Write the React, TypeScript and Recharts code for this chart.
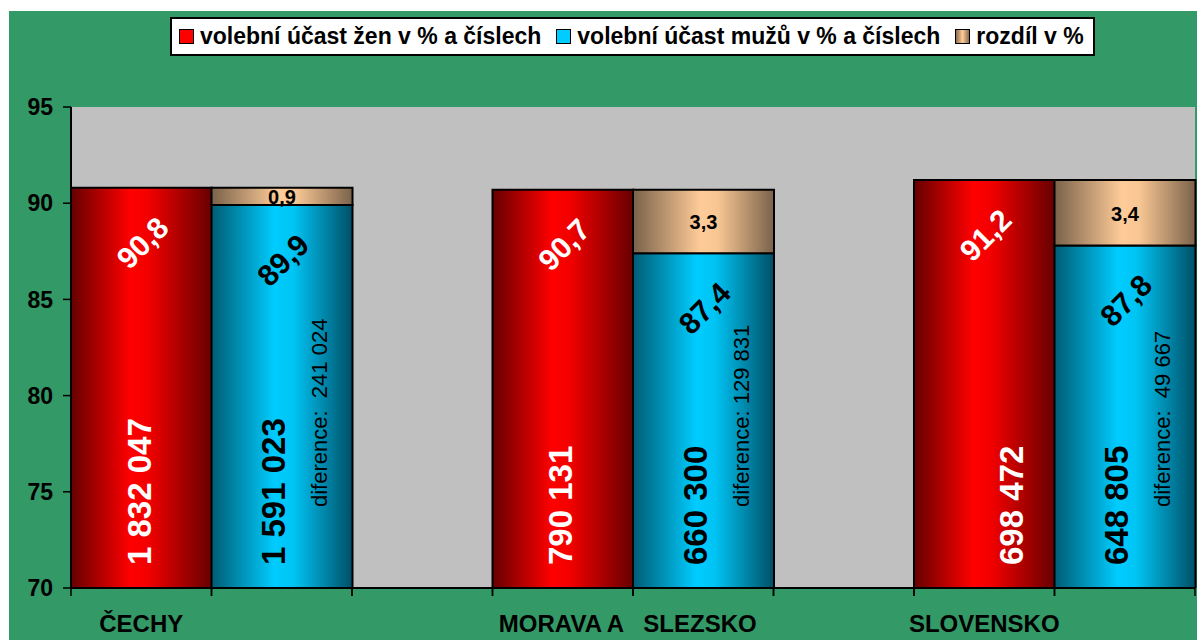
import React from "react";
import { Bar, BarChart, CartesianGrid, LabelList, XAxis, YAxis } from "recharts";

const regions = ["ČECHY", "MORAVA A   SLEZSKO", "SLOVENSKO"];
const womenPct = [90.8, 90.7, 91.2];
const menPct = [89.9, 87.4, 87.8];
const diffPct = [0.9, 3.3, 3.4];
const womenCount = ["1 832 047", "790 131", "698 472"];
const menCount = ["1 591 023", "660 300", "648 805"];
const diffLabels = ["diference:  241 024", "diference: 129 831", "diference:  49 667"];
const seriesNames = [
  "volební účast žen v % a číslech",
  "volební účast mužů v % a číslech",
  "rozdíl v %",
];
const yTicks = [70, 75, 80, 85, 90, 95];

// one slot per bar, plus an empty slot between the regions
const rows = regions.flatMap((region, i) => {
  const out: any[] = [
    { slot: `${i}z`, label: region, group: i, zeny: womenPct[i], zenyPocet: womenCount[i] },
    {
      slot: `${i}m`,
      label: "",
      group: i,
      muzi: menPct[i],
      muziPocet: menCount[i],
      diference: diffLabels[i],
      rozdil: diffPct[i],
    },
  ];
  if (i < regions.length - 1) out.push({ slot: `${i}g`, label: "", group: i });
  return out;
});

const W = 1188;
const H = 629;
const M = { top: 96, right: 2, bottom: 0, left: 0 };
const Y_W = 62;
const X_H = 52;
const PLOT_W = W - M.left - M.right - Y_W;
const PLOT_BOTTOM = H - M.bottom - X_H;
const BAND = PLOT_W / rows.length;
const FONT = "Arial, 'Liberation Sans', sans-serif";
const LABEL_SHIFT: Record<number, number> = { 1: 65 };
const WOMEN_COUNT_SHIFT: Record<string, number> = { "698 472": 29 };

const fmt = (v: number) => String(v).replace(".", ",");

function box(p: any) {
  const vb = p.viewBox ?? p;
  return { x: vb.x ?? p.x, y: vb.y ?? p.y, width: vb.width ?? p.width, height: vb.height ?? p.height };
}

const pctLabel = (color: string) => (p: any) => {
  if (p.value == null) return null;
  const { x, y, width } = box(p);
  const cx = x + width / 2 + 1;
  const cy = y + 55;
  return (
    <text
      x={cx}
      y={cy}
      transform={`rotate(-45 ${cx} ${cy})`}
      textAnchor="middle"
      dominantBaseline="central"
      fill={color}
      fontSize={30}
      fontWeight="bold"
      fontFamily={FONT}
    >
      {fmt(p.value)}
    </text>
  );
};

const vertLabel =
  (color: string, dx: number, fromBottom: number, size: number, weight: string, shifts?: Record<string, number>) =>
  (p: any) => {
    if (p.value == null) return null;
    const { x, width } = box(p);
    const extra = shifts ? shifts[String(p.value)] ?? 0 : 0;
    const tx = x + width / 2 + dx + extra;
    const ty = PLOT_BOTTOM - fromBottom;
    return (
      <text
        x={tx}
        y={ty}
        transform={`rotate(-90 ${tx} ${ty})`}
        textAnchor="start"
        fill={color}
        fontSize={size}
        fontWeight={weight}
        fontFamily={FONT}
        style={{ whiteSpace: "pre" }}
      >
        {p.value}
      </text>
    );
  };

const diffLabel = (p: any) => {
  if (p.value == null) return null;
  const { x, y, width, height } = box(p);
  return (
    <text
      x={x + width / 2}
      y={y + height / 2 + 1}
      textAnchor="middle"
      dominantBaseline="central"
      fill="#000"
      fontSize={20}
      fontWeight="bold"
      fontFamily={FONT}
    >
      {fmt(p.value)}
    </text>
  );
};

function CategoryTick(props: any) {
  const { x, y, payload } = props;
  const row = rows.find((r) => r.slot === payload.value);
  const shift = row && row.label ? LABEL_SHIFT[row.group] ?? 0 : 0;
  return (
    <g>
      <line x1={x - BAND / 2} x2={x - BAND / 2} y1={y} y2={y + 8} stroke="#000" strokeWidth={1.5} />
      <line x1={x + BAND / 2} x2={x + BAND / 2} y1={y} y2={y + 8} stroke="#000" strokeWidth={1.5} />
      {row && row.label ? (
        <text
          x={x + shift}
          y={y + 44}
          textAnchor="middle"
          fill="#000"
          fontSize={24}
          fontWeight="bold"
          fontFamily={FONT}
          style={{ whiteSpace: "pre" }}
        >
          {row.label}
        </text>
      ) : null}
    </g>
  );
}

const swatches = [
  { background: "#ff0000" },
  { background: "#00ccff" },
  { background: "linear-gradient(90deg, #8a6c4c, #ffcc99 50%, #8a6c4c)" },
];

function LegendBox() {
  return (
    <div
      style={{
        position: "absolute",
        left: 161,
        top: 6,
        width: 925,
        height: 39,
        boxSizing: "border-box",
        border: "2px solid #000",
        background: "#fff",
        display: "flex",
        alignItems: "center",
        paddingLeft: 7,
        fontFamily: FONT,
        fontWeight: "bold",
        fontSize: 23,
        color: "#000",
        whiteSpace: "nowrap",
      }}
    >
      {seriesNames.map((name, i) => (
        <div key={name} style={{ display: "flex", alignItems: "center", marginRight: 15 }}>
          <span
            style={{
              display: "inline-block",
              width: 15,
              height: 15,
              boxSizing: "border-box",
              border: "1.5px solid #000",
              marginRight: 6,
              ...swatches[i],
            }}
          />
          <span>{name}</span>
        </div>
      ))}
    </div>
  );
}

export default function App() {
  return (
    <div style={{ position: "absolute", left: 9, top: 11, width: W, height: H, background: "#339966" }}>
      <BarChart
        width={W}
        height={H}
        data={rows}
        margin={M}
        barCategoryGap={0}
        barGap={0}
      >
        <defs>
          <linearGradient id="gRed" x1="0" y1="0" x2="1" y2="0">
            <stop offset="0%" stopColor="#660000" />
            <stop offset="42%" stopColor="#ff0000" />
            <stop offset="55%" stopColor="#f20000" />
            <stop offset="100%" stopColor="#660000" />
          </linearGradient>
          <linearGradient id="gBlue" x1="0" y1="0" x2="1" y2="0">
            <stop offset="0%" stopColor="#005c74" />
            <stop offset="45%" stopColor="#00ccff" />
            <stop offset="58%" stopColor="#00c4f4" />
            <stop offset="100%" stopColor="#004f66" />
          </linearGradient>
          <linearGradient id="gTan" x1="0" y1="0" x2="1" y2="0">
            <stop offset="0%" stopColor="#7a624a" />
            <stop offset="48%" stopColor="#ffcc99" />
            <stop offset="60%" stopColor="#f8c693" />
            <stop offset="100%" stopColor="#7a624a" />
          </linearGradient>
        </defs>
        <CartesianGrid fill="#c0c0c0" horizontal={false} vertical={false} />
        <XAxis
          dataKey="slot"
          height={X_H}
          interval={0}
          tickLine={false}
          tickSize={0}
          tickMargin={0}
          axisLine={{ stroke: "#000", strokeWidth: 2 }}
          tick={<CategoryTick />}
        />
        <YAxis
          width={Y_W}
          domain={[70, 95]}
          ticks={yTicks}
          allowDataOverflow
          tickSize={8}
          tickMargin={10}
          axisLine={{ stroke: "#000", strokeWidth: 2 }}
          tickLine={{ stroke: "#000", strokeWidth: 1.5 }}
          tick={{ fill: "#000", fontSize: 23, fontWeight: "bold", fontFamily: FONT }}
        />
        <Bar dataKey="zeny" stackId="s" fill="url(#gRed)" stroke="#000" strokeWidth={2} isAnimationActive={false}>
          <LabelList dataKey="zeny" content={pctLabel("#fff")} />
          <LabelList dataKey="zenyPocet" content={vertLabel("#fff", 9, 23, 33, "bold", WOMEN_COUNT_SHIFT)} />
        </Bar>
        <Bar dataKey="muzi" stackId="s" fill="url(#gBlue)" stroke="#000" strokeWidth={2} isAnimationActive={false}>
          <LabelList dataKey="muzi" content={pctLabel("#000")} />
          <LabelList dataKey="muziPocet" content={vertLabel("#000", 3, 23, 33, "bold")} />
          <LabelList dataKey="diference" content={vertLabel("#000", 45, 81, 22, "normal")} />
        </Bar>
        <Bar dataKey="rozdil" stackId="s" fill="url(#gTan)" stroke="#000" strokeWidth={2} isAnimationActive={false}>
          <LabelList dataKey="rozdil" content={diffLabel} />
        </Bar>
      </BarChart>
      <LegendBox />
    </div>
  );
}
